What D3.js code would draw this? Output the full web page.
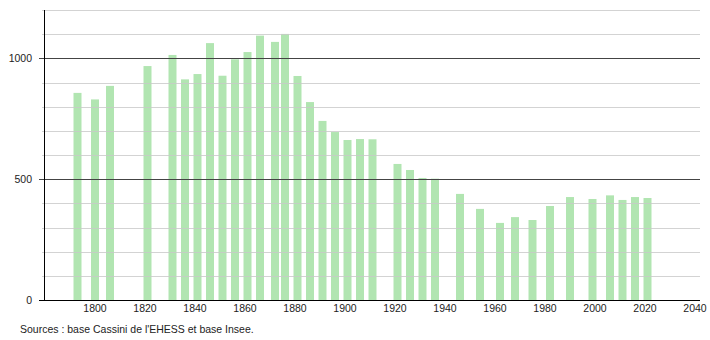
<!DOCTYPE html>
<html>
<head>
<meta charset="utf-8">
<script src="https://cdn.jsdelivr.net/npm/d3@7"></script>
<style>
  body { margin: 0; background: #fff; }
  svg { display: block; font-family: "Liberation Sans", Arial, sans-serif; }
</style>
</head>
<body>
<script>
// census years and population
var years = [1793, 1800, 1806, 1821, 1831, 1836, 1841, 1846, 1851, 1856,
  1861, 1866, 1872, 1876, 1881, 1886, 1891, 1896, 1901, 1906, 1911,
  1921, 1926, 1931, 1936, 1946, 1954, 1962, 1968, 1975, 1982, 1990,
  1999, 2006, 2011, 2016, 2021];
var population = [857, 830, 886, 968, 1014, 913, 935, 1063, 928, 996,
  1026, 1094, 1068, 1101, 927, 819, 741, 695, 662, 666, 665,
  563, 538, 505, 502, 439, 377, 319, 343, 331, 389, 426,
  418, 433, 414, 426, 422];
var xTicks = [1800, 1820, 1840, 1860, 1880, 1900, 1920, 1940, 1960, 1980, 2000, 2020, 2040];
var yMajor = [0, 500, 1000];
var yMinor = [100, 200, 300, 400, 600, 700, 800, 900, 1100, 1200];
var source = "Sources : base Cassini de l'EHESS et base Insee.";

var W = 710, H = 340;
var svg = d3.select("body").append("svg").attr("width", W).attr("height", H);

var x = d3.scaleLinear().domain([1779.6, 2042]).range([44, 700]);
var y = d3.scaleLinear().domain([0, 1200]).range([300, 10]);
var barW = 8;

// bars
svg.append("g").selectAll("rect").data(years)
  .enter().append("rect")
  .attr("x", function(d) { return x(d) - barW / 2; })
  .attr("y", function(d, i) { return y(population[i]); })
  .attr("width", barW)
  .attr("height", function(d, i) { return y(0) - y(population[i]); })
  .style("fill", "#b1e5b1");

// minor grid
svg.append("g").selectAll("line").data(yMinor)
  .enter().append("line")
  .attr("x1", 42).attr("x2", 700)
  .attr("y1", function(d) { return Math.round(y(d)) + 0.5; })
  .attr("y2", function(d) { return Math.round(y(d)) + 0.5; })
  .style("stroke", "#c8c8c8").style("stroke-opacity", 0.8);

// major grid
svg.append("g").selectAll("line").data(yMajor)
  .enter().append("line")
  .attr("x1", 39).attr("x2", 700)
  .attr("y1", function(d) { return Math.round(y(d)) + 0.5; })
  .attr("y2", function(d) { return Math.round(y(d)) + 0.5; })
  .style("stroke", function(d) { return d === 0 ? "#000" : "#444"; });

// y axis line
svg.append("line")
  .attr("x1", 44.5).attr("x2", 44.5)
  .attr("y1", y(1200)).attr("y2", y(0))
  .style("stroke", "#000");

// y labels
svg.append("g").selectAll("text").data(yMajor)
  .enter().append("text")
  .attr("x", 32).attr("y", function(d) { return y(d) + 4; })
  .attr("text-anchor", "end")
  .style("font-size", "10.5px").style("fill", "#222")
  .text(function(d) { return d; });

// x labels
svg.append("g").selectAll("text").data(xTicks)
  .enter().append("text")
  .attr("x", function(d) { return x(d); })
  .attr("y", 312)
  .attr("text-anchor", "middle")
  .style("font-size", "10.5px").style("fill", "#222")
  .text(function(d) { return d; });

svg.append("text")
  .attr("x", 20).attr("y", 333)
  .style("font-size", "10.5px").style("fill", "#222")
  .text(source);
</script>
</body>
</html>
